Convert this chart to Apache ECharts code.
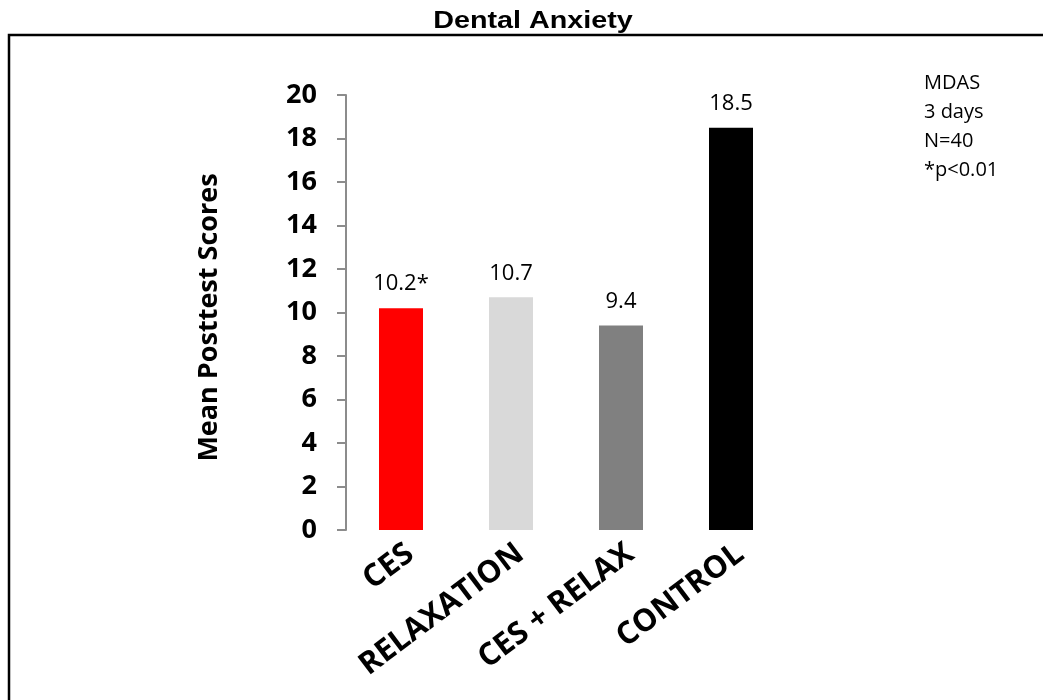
<!DOCTYPE html>
<html><head><meta charset="utf-8">
<script src="https://cdn.jsdelivr.net/npm/echarts@6/dist/echarts.min.js"></script>
<style>html,body{margin:0;padding:0;background:#fff}#c{width:1043px;height:700px}</style>
</head><body><div id="c"></div>
<script>
const categories = ['CES', 'RELAXATION', 'CES + RELAX', 'CONTROL'];
const values = [10.2, 10.7, 9.4, 18.5];
const valueLabels = ['10.2*', '10.7', '9.4', '18.5'];
const barColors = ['#ff0000', '#d9d9d9', '#808080', '#000000'];
const noteLines = ['MDAS', '3 days', 'N=40', '*p<0.01'];
const titleText = 'Dental Anxiety';
const yAxisName = 'Mean Posttest Scores';

const chart = echarts.init(document.getElementById('c'));
chart.setOption({
  animation: false,
  backgroundColor: '#fff',
  graphic: [
    { type: 'rect', shape: { x: 9, y: 35, width: 1045, height: 680 }, style: { fill: 'none', stroke: '#000', lineWidth: 2.5 } },
    { type: 'text', x: 533, y: 33, scaleX: 1.25,
      style: { text: titleText, font: 'bold 23px "Liberation Sans", Arial, sans-serif', fill: '#000', textAlign: 'center', textVerticalAlign: 'bottom' } },
    { type: 'text', left: 924, top: 69, style: { text: noteLines.join('\n'), font: '20px "Open Sans", sans-serif', lineHeight: 29, fill: '#000' } }
  ],
  grid: { left: 346, right: 257, top: 95, bottom: 170, containLabel: false },
  xAxis: {
    type: 'category', data: categories,
    axisLine: { show: false }, axisTick: { show: false },
    axisLabel: { rotate: 37, interval: 0, margin: 8, verticalAlign: 'top', fontFamily: '"Open Sans", sans-serif', fontWeight: 'bold', fontSize: 31, color: '#000' }
  },
  yAxis: {
    type: 'value', min: 0, max: 20, interval: 2,
    name: yAxisName, nameLocation: 'middle', nameGap: 123, nameRotate: 90,
    nameTextStyle: { fontFamily: '"Open Sans", sans-serif', fontWeight: 'bold', fontSize: 27, color: '#000', padding: [0, 10, 0, 0] },
    axisLine: { show: true, lineStyle: { color: '#8c8c8c', width: 2 } },
    axisTick: { show: true, inside: false, length: 9, lineStyle: { color: '#8c8c8c', width: 2 } },
    splitLine: { show: false },
    axisLabel: { margin: 29, fontFamily: '"Open Sans", sans-serif', fontWeight: 'bold', fontSize: 27, color: '#000' }
  },
  series: [{
    type: 'bar', barWidth: 44,
    data: values.map((v, i) => ({ value: v, itemStyle: { color: barColors[i] } })),
    label: {
      show: true, position: 'top', distance: 13,
      formatter: p => valueLabels[p.dataIndex],
      fontFamily: '"Open Sans", sans-serif', fontSize: 22, color: '#000'
    }
  }]
});
</script></body></html>
